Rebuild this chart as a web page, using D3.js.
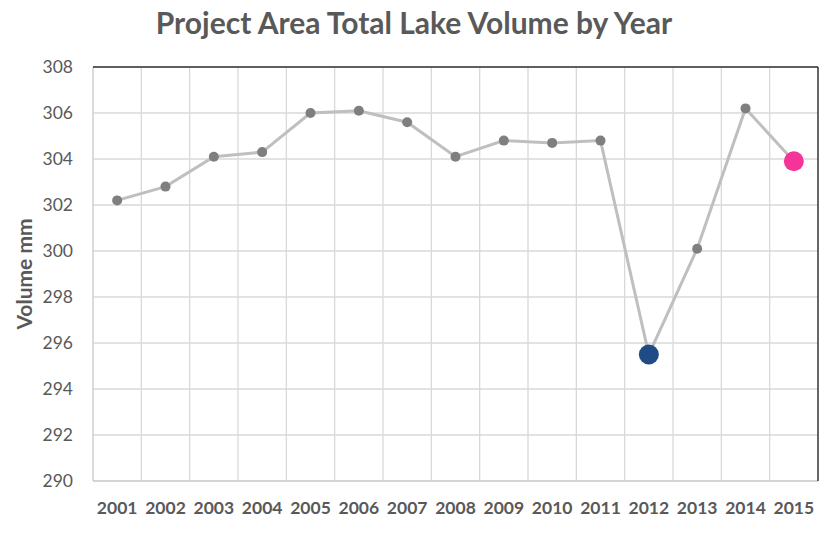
<!DOCTYPE html>
<html>
<head>
<meta charset="utf-8">
<script src="https://cdn.jsdelivr.net/npm/d3@7"></script>
<style>
  body { margin: 0; background: #fff; }
  text { font-family: Lato, "Open Sans", sans-serif; fill: #595959; }
</style>
</head>
<body>
<script>
// chart data
var years = ["2001", "2002", "2003", "2004", "2005", "2006", "2007", "2008",
             "2009", "2010", "2011", "2012", "2013", "2014", "2015"];
var volumes = [302.2, 302.8, 304.1, 304.3, 306.0, 306.1, 305.6, 304.1,
               304.8, 304.7, 304.8, 295.5, 300.1, 306.2, 303.9];
var yTicks = [290, 292, 294, 296, 298, 300, 302, 304, 306, 308];
var lowYear = "2012", lastYear = "2015";

var width = 829, height = 534;
var padLeft = 93, padRight = 818, padTop = 67, padBottom = 481;

var svg = d3.select('body').append('svg').attr('width', width).attr('height', height);

var x = d3.scaleBand().domain(years).range([padLeft, padRight]);
var y = d3.scaleLinear().domain([290, 308]).range([padBottom, padTop]);

// horizontal grid
svg.append('g').selectAll('line').data(yTicks).enter().append('line')
  .attr('x1', padLeft).attr('x2', padRight)
  .attr('y1', d => y(d)).attr('y2', d => y(d))
  .attr('stroke', '#d9d9d9').attr('stroke-width', 1.3);

// vertical grid at category boundaries
svg.append('g').selectAll('line').data(years.slice(1)).enter().append('line')
  .attr('x1', d => x(d)).attr('x2', d => x(d))
  .attr('y1', padTop).attr('y2', padBottom)
  .attr('stroke', '#d9d9d9').attr('stroke-width', 1.3);

// left and bottom axis lines (grey), top and right border (dark)
svg.append('line').attr('x1', padLeft).attr('x2', padLeft).attr('y1', padTop).attr('y2', padBottom)
  .attr('stroke', '#cfcfcf').attr('stroke-width', 1.5);
svg.append('line').attr('x1', padLeft).attr('x2', padRight).attr('y1', padBottom).attr('y2', padBottom)
  .attr('stroke', '#cfcfcf').attr('stroke-width', 1.5);
svg.append('line').attr('x1', padLeft).attr('x2', padRight).attr('y1', padTop).attr('y2', padTop)
  .attr('stroke', '#333').attr('stroke-width', 1.5);
svg.append('line').attr('x1', padRight).attr('x2', padRight).attr('y1', padTop).attr('y2', padBottom)
  .attr('stroke', '#333').attr('stroke-width', 1.5);

// y axis labels
var yAxis = svg.append('g').attr('transform', 'translate(' + padLeft + ',0)')
  .call(d3.axisLeft(y).tickValues(yTicks).tickSize(0).tickPadding(20));
yAxis.select('.domain').remove();
yAxis.selectAll('text').attr('font-size', 17.5).style('font-family', 'Lato, sans-serif').attr('fill', '#595959');

// x axis labels
var xAxis = svg.append('g').attr('transform', 'translate(0,' + padBottom + ')')
  .call(d3.axisBottom(x).tickSize(0).tickPadding(21));
xAxis.select('.domain').remove();
xAxis.selectAll('text').attr('font-size', 17.5).attr('font-weight', 'bold')
  .style('font-family', 'Lato, sans-serif').attr('fill', '#595959');

var data = years.map((yr, i) => ({ year: yr, value: volumes[i] }));

// line
svg.append('path').datum(data)
  .attr('fill', 'none').attr('stroke', '#bfbfbf').attr('stroke-width', 3)
  .attr('d', d3.line().x(d => x(d.year) + x.bandwidth() / 2).y(d => y(d.value)));

// markers
svg.append('g').selectAll('circle').data(data).enter().append('circle')
  .attr('cx', d => x(d.year) + x.bandwidth() / 2)
  .attr('cy', d => y(d.value))
  .attr('r', d => (d.year == lowYear || d.year == lastYear) ? 10 : 5)
  .attr('fill', d => d.year == lowYear ? '#1f4b86' : d.year == lastYear ? '#f5349a' : '#7f7f7f');

// title
svg.append('text').attr('x', 414).attr('y', 34).attr('text-anchor', 'middle')
  .attr('font-size', 30).attr('font-weight', 'bold')
  .text('Project Area Total Lake Volume by Year');

// y axis title
svg.append('text').attr('transform', 'translate(32,' + (padTop + padBottom) / 2 + ') rotate(-90)')
  .attr('text-anchor', 'middle').attr('font-size', 21).attr('font-weight', 'bold')
  .text('Volume mm');
</script>
</body>
</html>
